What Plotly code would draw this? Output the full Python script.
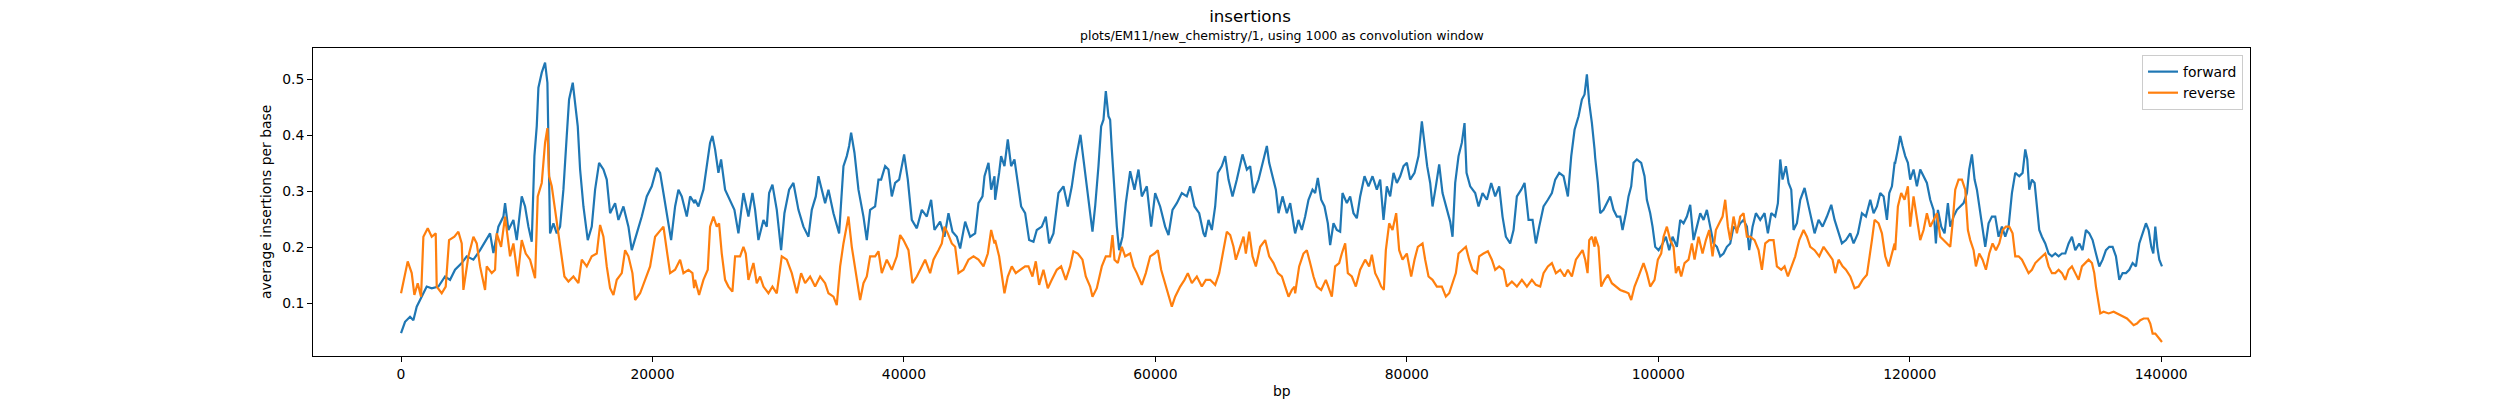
import plotly.graph_objects as go

# ---------------- data ----------------
forward_bp = [
    0, 318, 716, 981, 1246, 1644, 2042, 2440, 2970, 3500, 3898, 4296, 4827, 5224, 5755, 6285, 6683, 7080, 7346, 7744,
    8141, 8274, 8539, 8937, 9202, 9600, 9865, 10130, 10396, 10608, 10793, 10926, 11191, 11456, 11642, 11722, 11854,
    12120, 12385, 12650, 12915, 13180, 13366, 13658, 13844, 14056, 14242, 14507, 14852, 15170, 15435, 15753, 16098,
    16363, 16628, 17026, 17291, 17689, 18087, 18352, 18750, 19147, 19545, 19943, 20341, 20606, 20871, 21136, 21481,
    21799, 22064, 22329, 22727, 22993, 23338,
    23388, 23653, 24051, 24316, 24581, 24767, 24979, 25244, 25457, 25775, 26173, 26517, 26836, 27233, 27631, 27950,
    28162, 28427, 28825, 29090, 29276, 29541, 29886, 30230, 30495, 30867, 31211, 31609, 32007, 32405, 32670, 32988,
    33200, 33466, 33731, 33996, 34394, 34845, 35190, 35455, 35640, 35799, 36065, 36383, 36781, 37046, 37311, 37709,
    37974, 38186, 38505, 38770, 39035, 39300, 39618, 40016, 40308, 40626, 41024, 41422, 41819, 42164, 42430, 42880,
    43225, 43543, 43861, 44206, 44472, 44870, 45267, 45665, 45930, 46249, 46408, 46726, 46938, 47203,
    47253, 47571, 47730, 47996, 48261, 48526, 48791, 49056, 49322, 49640, 49958, 50303, 50568, 50966, 51284, 51549,
    51894, 52292, 52690, 53035, 53353, 53618, 53883, 54042, 54281, 54546, 54811, 54997, 55209, 55474, 55686, 55872,
    56058, 56270, 56402, 56535, 56747, 56933, 57118, 57384, 57649, 57994, 58338, 58657, 58922, 59320, 59664, 59983,
    60380, 60778, 61044, 61362, 61706, 62104, 62502, 62767, 63112, 63484, 63828, 63961, 64226, 64491, 64756, 64968,
    65287, 65552, 65817, 66135, 66480, 66931, 67276, 67541, 67806, 68204, 68469, 68867, 69052, 69265, 69583, 69795,
    70113, 70458, 70723, 71068,
    71118, 71383, 71648, 71914, 72179, 72497, 72709, 72921, 73187, 73452, 73717, 73903, 74168, 74433, 74698, 74884,
    75229, 75494, 75759, 76024, 76289, 76634, 76952, 77271, 77615, 77881, 78146, 78411, 78676, 78941, 79207, 79472,
    79737, 80002, 80268, 80612, 80930, 81196, 81408, 81620, 81859, 82044, 82309, 82575, 82840, 83185, 83450, 83636,
    83848, 84113, 84378, 84590, 84749, 85041, 85439, 85705, 86023, 86367, 86712, 87030, 87348, 87613, 87879, 88223,
    88489, 88754, 89099, 89364, 89682, 90000, 90265, 90531, 90875, 91220, 91538, 91804, 92122, 92467, 92812, 93077,
    93342, 93660, 93925, 94137, 94323, 94509, 94721, 94933,
    94983, 95195, 95381, 95646, 95911, 96176, 96441, 96707, 96972, 97158, 97423, 97635, 97847, 98033, 98298, 98643,
    98908, 99094, 99359, 99545, 99757, 100022, 100287, 100601, 100871, 101136, 101481, 101746, 102011, 102276, 102541,
    102806, 103072, 103337, 103602, 103867, 104132, 104398, 104663, 104928, 105193, 105458, 105724, 105989, 106254,
    106519, 106784, 107050, 107235, 107500, 107766, 108110, 108455, 108720, 108985, 109303, 109516, 109702, 109888,
    110153, 110365, 110577, 110763, 111028, 111294, 111638, 111903, 112169, 112434, 112752, 113070, 113415, 113760,
    114025, 114290, 114608, 114927, 115271, 115536, 115881, 116199, 116517, 116862, 117127, 117392, 117657, 117923,
    118188, 118374, 118586, 118798,
    118848, 119060, 119246, 119431, 119644, 119856, 120041, 120306, 120572, 120837, 121102, 121367, 121633, 121898,
    122083, 122243, 122508, 122773, 123038, 123224, 123489, 123754, 124019, 124285, 124550, 124736, 124948, 125160,
    125346, 125611, 125797, 126009, 126274, 126539, 126804, 127070, 127335, 127600, 127865, 128130, 128396, 128714,
    128979, 129191, 129350, 129509, 129721, 129934, 130119, 130305, 130517, 130782, 131048, 131313, 131578, 131843,
    132108, 132374, 132639, 132904, 133169, 133487, 133752, 134018, 134283, 134548, 134813, 135078, 135344, 135609,
    135874, 136139, 136404, 136670, 136935, 137200, 137465, 137730, 137996, 138261, 138526, 138791, 139003, 139216,
    139375, 139534, 139693, 139852, 140064,
]
forward_values = [
    0.047, 0.067, 0.076, 0.070, 0.094, 0.112, 0.130, 0.127, 0.130, 0.148, 0.142, 0.160, 0.172, 0.184, 0.178, 0.195,
    0.210, 0.225, 0.190, 0.237, 0.255, 0.279, 0.231, 0.249, 0.213, 0.291, 0.273, 0.237, 0.210, 0.363, 0.416, 0.485,
    0.512, 0.530, 0.494, 0.393, 0.225, 0.243, 0.225, 0.237, 0.303, 0.399, 0.464, 0.494, 0.452, 0.416, 0.339, 0.273,
    0.213, 0.237, 0.303, 0.351, 0.339, 0.321, 0.261, 0.279, 0.249, 0.273, 0.237, 0.195, 0.225, 0.255, 0.291, 0.309,
    0.342, 0.333, 0.297, 0.261, 0.213, 0.273, 0.303, 0.291, 0.255, 0.291, 0.279,
    0.285, 0.273, 0.303, 0.345, 0.387, 0.399, 0.375, 0.333, 0.357, 0.303, 0.285, 0.267, 0.225, 0.297, 0.255, 0.297,
    0.267, 0.213, 0.249, 0.237, 0.297, 0.312, 0.267, 0.195, 0.261, 0.303, 0.315, 0.267, 0.237, 0.219, 0.267, 0.291,
    0.327, 0.303, 0.279, 0.303, 0.261, 0.225, 0.345, 0.363, 0.381, 0.405, 0.369, 0.303, 0.255, 0.213, 0.267, 0.273,
    0.321, 0.321, 0.345, 0.339, 0.291, 0.315, 0.321, 0.366, 0.321, 0.249, 0.234, 0.267, 0.255, 0.285, 0.231, 0.246,
    0.219, 0.261, 0.228, 0.219, 0.198, 0.246, 0.219, 0.225, 0.279, 0.291, 0.327, 0.351, 0.303, 0.327,
    0.285, 0.333, 0.363, 0.345, 0.393, 0.345, 0.357, 0.315, 0.273, 0.261, 0.213, 0.210, 0.231, 0.237, 0.255, 0.207,
    0.225, 0.297, 0.309, 0.273, 0.309, 0.351, 0.387, 0.401, 0.357, 0.303, 0.261, 0.228, 0.273, 0.345, 0.416, 0.428,
    0.479, 0.434, 0.428, 0.375, 0.291, 0.237, 0.195, 0.219, 0.279, 0.336, 0.303, 0.339, 0.291, 0.309, 0.237, 0.297,
    0.273, 0.237, 0.222, 0.267, 0.279, 0.297, 0.291, 0.309, 0.273, 0.261, 0.225, 0.219, 0.249, 0.231, 0.273, 0.333,
    0.345, 0.363, 0.321, 0.291, 0.321, 0.366, 0.339, 0.345, 0.297, 0.321, 0.345, 0.381, 0.351, 0.333, 0.303, 0.261,
    0.291, 0.261, 0.279, 0.231,
    0.225, 0.249, 0.231, 0.255, 0.285, 0.303, 0.297, 0.324, 0.285, 0.273, 0.243, 0.204, 0.243, 0.231, 0.228, 0.297,
    0.279, 0.291, 0.261, 0.252, 0.291, 0.327, 0.309, 0.327, 0.303, 0.321, 0.249, 0.309, 0.291, 0.333, 0.315, 0.327,
    0.345, 0.351, 0.321, 0.333, 0.363, 0.425, 0.387, 0.345, 0.315, 0.273, 0.309, 0.348, 0.297, 0.267, 0.246, 0.219,
    0.315, 0.363, 0.387, 0.422, 0.333, 0.309, 0.297, 0.273, 0.297, 0.285, 0.315, 0.291, 0.309, 0.255, 0.219, 0.207,
    0.231, 0.291, 0.303, 0.315, 0.249, 0.249, 0.207, 0.237, 0.273, 0.285, 0.297, 0.321, 0.333, 0.327, 0.291, 0.363,
    0.410, 0.434, 0.464, 0.473, 0.509, 0.458, 0.422, 0.375,
    0.360, 0.315, 0.261, 0.267, 0.279, 0.291, 0.267, 0.255, 0.255, 0.231, 0.261, 0.291, 0.309, 0.351, 0.357, 0.351,
    0.327, 0.285, 0.261, 0.237, 0.201, 0.195, 0.204, 0.219, 0.195, 0.219, 0.201, 0.249, 0.243, 0.255, 0.276, 0.213,
    0.237, 0.261, 0.249, 0.267, 0.237, 0.207, 0.201, 0.184, 0.189, 0.201, 0.207, 0.237, 0.231, 0.243, 0.249, 0.237,
    0.195, 0.237, 0.261, 0.249, 0.261, 0.225, 0.261, 0.255, 0.279, 0.357, 0.321, 0.345, 0.315, 0.303, 0.231, 0.243,
    0.285, 0.306, 0.279, 0.249, 0.225, 0.249, 0.237, 0.255, 0.276, 0.249, 0.231, 0.207, 0.213, 0.225, 0.207, 0.225,
    0.261, 0.255, 0.285, 0.261, 0.273, 0.297, 0.291, 0.249, 0.297, 0.309, 0.351,
    0.351, 0.375, 0.399, 0.381, 0.363, 0.351, 0.321, 0.339, 0.309, 0.339, 0.327, 0.315, 0.285, 0.267, 0.207, 0.267,
    0.237, 0.225, 0.279, 0.237, 0.255, 0.267, 0.273, 0.279, 0.297, 0.339, 0.366, 0.321, 0.303, 0.261, 0.225, 0.201,
    0.243, 0.255, 0.255, 0.219, 0.237, 0.219, 0.237, 0.297, 0.333, 0.327, 0.333, 0.375, 0.357, 0.303, 0.321, 0.315,
    0.273, 0.231, 0.219, 0.207, 0.189, 0.184, 0.189, 0.184, 0.189, 0.189, 0.207, 0.219, 0.195, 0.207, 0.195, 0.231,
    0.225, 0.213, 0.189, 0.166, 0.178, 0.195, 0.201, 0.201, 0.184, 0.142, 0.154, 0.154, 0.160, 0.172, 0.166, 0.207,
    0.225, 0.243, 0.231, 0.201, 0.189, 0.237, 0.201, 0.178, 0.166,
]

reverse_bp = [
    0, 186, 530, 849, 1061, 1326, 1591, 1777, 2122, 2440, 2758, 2838, 3235, 3554, 3819, 4243, 4561, 4827, 4959, 5357,
    5755, 6020, 6285, 6683, 6816, 7213, 7479, 7611, 7956, 8274, 8672, 8937, 9282, 9600, 9918, 10262, 10661, 10873,
    11191, 11456, 11642, 11775, 11987, 12252, 12518, 12730, 12995, 13313, 13711, 14109, 14374, 14772, 15170, 15568,
    15833, 16098, 16363, 16628, 16894, 17159, 17557, 17821, 18087, 18405, 18617, 19015, 19412, 19810, 20208, 20606,
    20871, 21136, 21401, 21799, 22196, 22462, 22860, 23178, 23311,
    23388, 23706, 24051, 24396, 24581, 24846, 25112, 25297, 25510, 25775, 26040, 26358, 26570, 26968, 27233, 27419,
    27631, 28029, 28294, 28560, 28825, 29222, 29541, 29886, 30283, 30681, 31079, 31476, 31821, 32140, 32537, 32935,
    33333, 33731, 33996, 34394, 34659, 34925, 35190, 35455, 35587, 35852, 36118, 36515, 36781, 37046, 37311, 37709,
    37974, 38239, 38637, 39035, 39433, 39698, 39963, 40361, 40679, 41024, 41422, 41687, 42085, 42350, 42748, 43013,
    43225, 43490, 43808, 44074, 44339, 44737, 45134, 45532, 45930, 46329, 46673, 46938, 47203,
    47253, 47571, 47783, 47996, 48261, 48579, 48897, 49242, 49640, 49905, 50223, 50488, 50754, 51098, 51443, 51761,
    52159, 52504, 52875, 53220, 53485, 53830, 54201, 54466, 54811, 54997, 55342, 55739, 56058, 56402, 56588, 56747,
    57012, 57331, 57596, 57994, 58259, 58524, 58922, 59240, 59585, 59930, 60195, 60460, 60778, 61044, 61309, 61574,
    61972, 62317, 62582, 62900, 63298, 63696, 64014, 64358, 64756, 65075, 65340, 65684, 65950, 66215, 66400, 66746,
    67011, 67196, 67462, 67727, 67992, 68337, 68735, 69052, 69398, 69742, 70060, 70325, 70591, 70856, 71068,
    71118, 71436, 71781, 72046, 72311, 72577, 72842, 73187, 73558, 73823, 74035, 74301, 74619, 74831, 75096, 75308,
    75626, 75945, 76289, 76687, 77006, 77218, 77483, 77748, 77960, 78172, 78331, 78597, 78862, 79154, 79392, 79657,
    80002, 80347, 80612, 80877, 81249, 81461, 81726, 82044, 82389, 82787, 83105, 83370, 83636, 83901, 84113, 84431,
    84696, 84962, 85227, 85572, 85757, 86102, 86447, 86765, 87030, 87348, 87693, 87958, 88356, 88754, 89152, 89550,
    89947, 90265, 90610, 90875, 91220, 91538, 91857, 92202, 92546, 92812, 93130, 93448, 93793, 93978, 94190, 94376,
    94509, 94721, 94933,
    94983, 95248, 95460, 95725, 95991, 96309, 96627, 96972, 97317, 97635, 97847, 98112, 98431, 98828, 99094, 99359,
    99704, 99969, 100234, 100420, 100685, 100950, 101216, 101401, 101613, 101825, 102091, 102409, 102674, 102886,
    103205, 103522, 103788, 104053, 104318, 104583, 104848, 105114, 105326, 105538, 105724, 105989, 106254, 106519,
    106784, 107050, 107315, 107660, 107978, 108243, 108508, 108827, 109171, 109436, 109781, 110046, 110312, 110630,
    110895, 111214, 111558, 111823, 112089, 112434, 112805, 113150, 113494, 113866, 114078, 114343, 114661, 114927,
    115271, 115616, 115934, 116252, 116597, 116783, 116995, 117207, 117525, 117790, 118056, 118321, 118586, 118798,
    118848, 119060, 119325, 119590, 119856, 120041, 120306, 120572, 120837, 121102, 121367, 121633, 121898, 122163,
    122428, 122694, 122959, 123224, 123410, 123622, 123887, 124153, 124417, 124629, 124815, 125081, 125266, 125531,
    125797, 126062, 126327, 126592, 126857, 127123, 127388, 127653, 127918, 128183, 128396, 128661, 128926, 129191,
    129456, 129721, 129987, 130252, 130517, 130782, 131048, 131313, 131578, 131843, 132108, 132374, 132639, 132904,
    133169, 133435, 133700, 133965, 134230, 134495, 134681, 134813, 134972, 135158, 135423, 135821, 136219, 136484,
    136749, 137014, 137280, 137545, 137810, 138075, 138341, 138606, 138950, 139136, 139322, 139534, 139746, 139932,
    140064,
]
reverse_values = [
    0.118, 0.136, 0.175, 0.154, 0.115, 0.136, 0.112, 0.219, 0.234, 0.219, 0.225, 0.130, 0.118, 0.130, 0.213, 0.219,
    0.228, 0.207, 0.124, 0.184, 0.219, 0.207, 0.166, 0.124, 0.166, 0.154, 0.160, 0.225, 0.201, 0.255, 0.184, 0.207,
    0.148, 0.213, 0.189, 0.178, 0.145, 0.291, 0.315, 0.387, 0.413, 0.327, 0.309, 0.267, 0.225, 0.189, 0.148, 0.139,
    0.148, 0.136, 0.178, 0.166, 0.184, 0.189, 0.240, 0.219, 0.166, 0.127, 0.115, 0.142, 0.154, 0.195, 0.184, 0.154,
    0.106, 0.118, 0.142, 0.166, 0.219, 0.231, 0.237, 0.195, 0.154, 0.160, 0.178, 0.154, 0.160, 0.154, 0.127,
    0.142, 0.115, 0.142, 0.160, 0.237, 0.255, 0.237, 0.243, 0.189, 0.142, 0.130, 0.121, 0.184, 0.184, 0.201, 0.189,
    0.142, 0.172, 0.136, 0.148, 0.130, 0.118, 0.130, 0.118, 0.184, 0.178, 0.154, 0.118, 0.154, 0.136, 0.148, 0.130,
    0.148, 0.136, 0.118, 0.112, 0.097, 0.166, 0.207, 0.243, 0.255, 0.201, 0.166, 0.106, 0.136, 0.148, 0.184, 0.184,
    0.193, 0.154, 0.178, 0.160, 0.184, 0.222, 0.213, 0.195, 0.136, 0.148, 0.166, 0.178, 0.154, 0.178, 0.195, 0.207,
    0.237, 0.225, 0.207, 0.201, 0.154, 0.160, 0.178, 0.184, 0.178, 0.166, 0.189, 0.231, 0.207,
    0.213, 0.184, 0.154, 0.118, 0.148, 0.166, 0.154, 0.160, 0.166, 0.166, 0.148, 0.175, 0.133, 0.160, 0.127, 0.142,
    0.160, 0.166, 0.142, 0.166, 0.193, 0.189, 0.178, 0.148, 0.130, 0.112, 0.127, 0.166, 0.184, 0.184, 0.222, 0.178,
    0.172, 0.201, 0.184, 0.189, 0.166, 0.154, 0.133, 0.154, 0.184, 0.189, 0.195, 0.160, 0.136, 0.118, 0.094, 0.112,
    0.130, 0.142, 0.154, 0.136, 0.148, 0.130, 0.142, 0.142, 0.133, 0.154, 0.189, 0.228, 0.222, 0.201, 0.178, 0.201,
    0.219, 0.189, 0.228, 0.184, 0.166, 0.201, 0.213, 0.184, 0.172, 0.154, 0.148, 0.130, 0.112, 0.124, 0.130,
    0.118, 0.166, 0.189, 0.195, 0.172, 0.148, 0.130, 0.124, 0.142, 0.124, 0.112, 0.166, 0.172, 0.189, 0.207, 0.154,
    0.148, 0.130, 0.160, 0.178, 0.166, 0.187, 0.154, 0.142, 0.130, 0.124, 0.195, 0.243, 0.231, 0.261, 0.195, 0.178,
    0.189, 0.148, 0.178, 0.201, 0.207, 0.178, 0.148, 0.142, 0.130, 0.130, 0.112, 0.118, 0.136, 0.154, 0.189, 0.195,
    0.201, 0.178, 0.160, 0.154, 0.184, 0.189, 0.193, 0.178, 0.160, 0.166, 0.160, 0.130, 0.139, 0.130, 0.142, 0.130,
    0.142, 0.133, 0.130, 0.154, 0.166, 0.172, 0.154, 0.160, 0.148, 0.160, 0.148, 0.178, 0.189, 0.195, 0.178, 0.154,
    0.213, 0.219, 0.201,
    0.219, 0.201, 0.130, 0.142, 0.151, 0.136, 0.130, 0.124, 0.121, 0.118, 0.106, 0.130, 0.148, 0.172, 0.154, 0.130,
    0.142, 0.178, 0.189, 0.219, 0.237, 0.213, 0.201, 0.154, 0.166, 0.148, 0.172, 0.178, 0.207, 0.178, 0.219, 0.189,
    0.213, 0.231, 0.184, 0.231, 0.243, 0.255, 0.285, 0.237, 0.213, 0.255, 0.225, 0.255, 0.261, 0.219, 0.219, 0.213,
    0.195, 0.160, 0.207, 0.213, 0.213, 0.166, 0.160, 0.166, 0.148, 0.166, 0.184, 0.213, 0.231, 0.219, 0.201, 0.195,
    0.184, 0.201, 0.189, 0.178, 0.154, 0.178, 0.166, 0.160, 0.148, 0.127, 0.130, 0.142, 0.151, 0.178, 0.213, 0.249,
    0.243, 0.225, 0.184, 0.166, 0.189, 0.207,
    0.195, 0.273, 0.297, 0.285, 0.309, 0.237, 0.291, 0.249, 0.213, 0.231, 0.261, 0.237, 0.249, 0.261, 0.219, 0.213,
    0.207, 0.201, 0.243, 0.303, 0.321, 0.321, 0.303, 0.231, 0.213, 0.195, 0.166, 0.189, 0.178, 0.160, 0.189, 0.207,
    0.195, 0.207, 0.231, 0.237, 0.237, 0.225, 0.184, 0.184, 0.178, 0.166, 0.154, 0.160, 0.172, 0.178, 0.184, 0.189,
    0.166, 0.154, 0.154, 0.160, 0.154, 0.142, 0.160, 0.166, 0.154, 0.142, 0.166, 0.172, 0.178, 0.172, 0.154, 0.130,
    0.106, 0.082, 0.085, 0.082, 0.085, 0.082, 0.079, 0.076, 0.073, 0.067, 0.061, 0.064, 0.070, 0.073, 0.073, 0.064,
    0.046, 0.046, 0.040, 0.034, 0.031,
]

series_names = ["forward", "reverse"]
series_colors = ["#1f77b4", "#ff7f0e"]

x_tick_values = [0, 20000, 40000, 60000, 80000, 100000, 120000, 140000]
x_tick_labels = ["0", "20000", "40000", "60000", "80000", "100000", "120000", "140000"]
y_tick_values = [0.1, 0.2, 0.3, 0.4, 0.5]
y_tick_labels = ["0.1", "0.2", "0.3", "0.4", "0.5"]

title_text = "insertions"
subtitle_text = "plots/EM11/new_chemistry/1, using 1000 as convolution window"
x_label = "bp"
y_label = "average insertions per base"

# ---------------- figure ----------------
FONT = "DejaVu Sans"
W, H = 2500, 400
L, R, T, B = 313, 250, 48, 44

fig = go.Figure()
for name, xs, ys, color in zip(series_names, [forward_bp, reverse_bp], [forward_values, reverse_values], series_colors):
    fig.add_trace(go.Scatter(x=xs, y=ys, mode="lines", name=name,
                             line=dict(color=color, width=2.2)))

axis_common = dict(showline=True, linecolor="black", linewidth=1, mirror=True,
                   showgrid=False, zeroline=False, ticks="outside", ticklen=5,
                   tickcolor="black", tickwidth=1,
                   tickfont=dict(family=FONT, size=13.9, color="black"))

fig.update_xaxes(range=[-7003, 147067], tickvals=x_tick_values, ticktext=x_tick_labels, **axis_common)
fig.update_yaxes(range=[0.006, 0.556], tickvals=y_tick_values, ticktext=y_tick_labels, **axis_common)

fig.update_layout(
    width=W, height=H,
    margin=dict(l=L, r=R, t=T, b=B, autoexpand=False),
    paper_bgcolor="white", plot_bgcolor="white",
    font=dict(family=FONT, color="black"),
    title=dict(text=title_text, x=0.5, xref="container", xanchor="center",
               y=1 - 16 / H, yref="container", yanchor="middle",
               font=dict(family=FONT, size=16.7, color="black")),
    showlegend=True,
    legend=dict(x=0.9964, y=0.977, xanchor="right", yanchor="top",
                bgcolor="rgba(255,255,255,0.8)", bordercolor="#cccccc", borderwidth=1,
                font=dict(family=FONT, size=13.9, color="black"),
                itemwidth=30, tracegroupgap=0),
    annotations=[
        dict(text=subtitle_text, x=0.5, y=1, xref="paper", yref="paper",
             xanchor="center", yanchor="bottom", yshift=3, showarrow=False,
             font=dict(family=FONT, size=12.5, color="black")),
        dict(text=x_label, x=0.5, y=0, xref="paper", yref="paper",
             xanchor="center", yanchor="middle", yshift=-35, showarrow=False,
             font=dict(family=FONT, size=13.9, color="black")),
        dict(text=y_label, x=0, y=0.5, xref="paper", yref="paper",
             xanchor="center", yanchor="middle", xshift=-47, textangle=-90, showarrow=False,
             font=dict(family=FONT, size=13.9, color="black")),
    ],
)

fig.write_html(
    "out.html",
    config={"displayModeBar": False},
    post_script="document.documentElement.style.margin='0';document.body.style.margin='0';"
                "document.body.style.padding='0';document.body.style.overflow='hidden';",
)
